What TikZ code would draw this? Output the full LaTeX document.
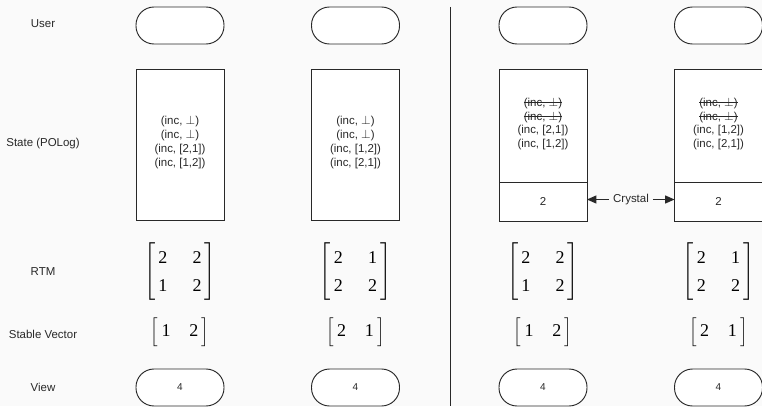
\documentclass[tikz,border=0pt]{standalone}
\usepackage{amsmath}
\usepackage[no-math]{fontspec}
\setmainfont{Liberation Sans}
\newfontfamily\serf{Liberation Serif}
\usetikzlibrary{arrows.meta}
\definecolor{bgc}{RGB}{250,250,250}
\definecolor{ink}{RGB}{40,40,40}
\newcommand{\strk}[1]{\setbox0\hbox{#1}\rlap{\rule[0.28em]{\wd0}{0.5pt}}\box0}
\newcommand{\dg}[1]{\mbox{\fontsize{13.5}{16}\selectfont\serf #1}}
\newcommand{\mtx}[4]{$\left[\mkern3mu\begin{matrix}\dg{#1}&\dg{#2}\\\dg{#3}&\dg{#4}\end{matrix}\mkern3mu\right]$}
\newcommand{\vect}[2]{$\Big[\mkern4mu\dg{#1}\hspace{14pt}\dg{#2}\mkern4mu\Big]$}
\begin{document}
\begin{tikzpicture}[x=0.75pt,y=-0.75pt,
  every node/.style={inner sep=0pt, outer sep=0pt},
  lab/.style={font=\fontsize{8.6}{10}\selectfont, text=ink},
  pill/.style={draw=ink, fill=white, line width=0.7pt, minimum width=66pt, minimum height=27.75pt, rounded corners=13.5pt},
  statebox/.style={draw=ink, fill=white, line width=0.7pt, minimum width=66pt, minimum height=113.25pt},
  upbox/.style={draw=ink, fill=white, line width=0.7pt, minimum width=66pt, minimum height=84.75pt},
  lowbox/.style={draw=ink, fill=white, line width=0.7pt, minimum width=66pt, minimum height=29.25pt, font=\fontsize{8.6}{10}\selectfont, text=ink},
  logtxt/.style={align=center, font=\fontsize{8.6}{10.3}\selectfont, text=ink},
  mat/.style={font=\fontsize{13.5}{16}\selectfont\setlength\arraycolsep{9.4pt}\renewcommand\arraystretch{1.32}},
  vec/.style={font=\fontsize{12}{14}\selectfont},
  viewtxt/.style={font=\fontsize{7.5}{9}\selectfont, text=ink},
  arr/.style={-{Triangle[length=7pt,width=6pt]}, line width=0.75pt, draw=ink}
]
\fill[bgc] (0,0) rectangle (762,406);
\useasboundingbox (0,0) rectangle (762,406);

% row labels
\node[lab] (lUser) at (43,24) {User};
\node[lab] (lState) at (43,144) {State (POLog)};
\node[lab] (lRTM) at (43,272) {RTM};
\node[lab] (lSV) at (43,334) {Stable Vector};
\node[lab] (lView) at (43,387) {View};

% separator
\draw[ink, line width=0.75pt] (450,7) -- (450,406);

% users
\node[pill] (u1) at (180,25.5) {};
\node[pill] (u2) at (355.5,25.5) {};
\node[pill] (u3) at (543,25.5) {};
\node[pill] (u4) at (718.5,25.5) {};

% states (left)
\node[statebox] (s1) at (180,144.5) {};
\node[logtxt] (t1) at (180,142.5) {(inc, $\perp$)\\(inc, $\perp$)\\(inc, [2,1])\\(inc, [1,2])};
\node[statebox] (s2) at (355.5,144.5) {};
\node[logtxt] (t2) at (355.5,142.5) {(inc, $\perp$)\\(inc, $\perp$)\\(inc, [1,2])\\(inc, [2,1])};

% states (right)
\node[upbox] (s3) at (543,125.5) {};
\node[lowbox] (s3b) at (543,201.5) {2};
\node[logtxt] (t3) at (543,124) {\strk{(inc, $\perp$)}\\\strk{(inc, $\perp$)}\\(inc, [2,1])\\(inc, [1,2])};
\node[upbox] (s4) at (718.5,125.5) {};
\node[lowbox] (s4b) at (718.5,201.5) {2};
\node[logtxt] (t4) at (718.5,124) {\strk{(inc, $\perp$)}\\\strk{(inc, $\perp$)}\\(inc, [1,2])\\(inc, [2,1])};

% crystal
\node[lab, inner xsep=3pt] (cry) at (631,199.5) {Crystal};
\draw[arr] (cry.west) -- (s3b.east |- cry.west);
\draw[arr] (cry.east) -- (s4b.west |- cry.east);

% RTM
\node[mat] (m1) at (180,272) {\mtx{2}{2}{1}{2}};
\node[mat] (m2) at (355.5,272) {\mtx{2}{1}{2}{2}};
\node[mat] (m3) at (543,272) {\mtx{2}{2}{1}{2}};
\node[mat] (m4) at (718.5,272) {\mtx{2}{1}{2}{2}};

% stable vectors
\node[vec] (v1) at (180,332) {\vect{1}{2}};
\node[vec] (v2) at (355.5,332) {\vect{2}{1}};
\node[vec] (v3) at (543,332) {\vect{1}{2}};
\node[vec] (v4) at (718.5,332) {\vect{2}{1}};

% views
\node[pill] (w1) at (180,387.5) {};
\node[viewtxt] at (w1) {4};
\node[pill] (w2) at (355.5,387.5) {};
\node[viewtxt] at (w2) {4};
\node[pill] (w3) at (543,387.5) {};
\node[viewtxt] at (w3) {4};
\node[pill] (w4) at (718.5,387.5) {};
\node[viewtxt] at (w4) {4};
\end{tikzpicture}
\end{document}
